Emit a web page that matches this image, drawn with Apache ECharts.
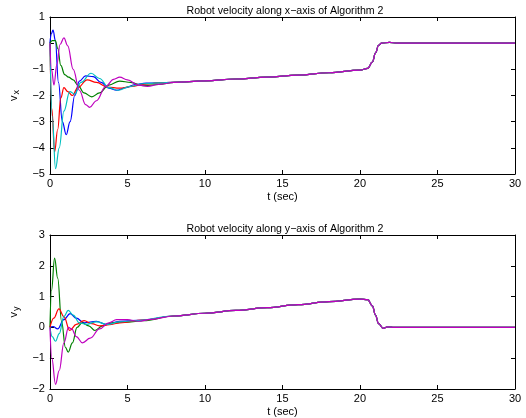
<!DOCTYPE html>
<html>
<head>
<meta charset="utf-8">
<script src="https://cdn.jsdelivr.net/npm/echarts@6/dist/echarts.min.js"></script>
<style>
  html, body { margin: 0; padding: 0; background: #fff; }
  #chart { width: 526px; height: 418px; }
</style>
</head>
<body>
<div id="chart"></div>
<script>
// x ticks (time, sec)
const xTicks = [0, 5, 10, 15, 20, 25, 30];
const vxTicks = [-5, -4, -3, -2, -1, 0, 1];
const vyTicks = [-2, -1, 0, 1, 2, 3];

// common slow part after the transient
const vxTail = [[10,-1.44],[12,-1.37],[14,-1.3],[16,-1.22],[18,-1.13],[20,-1.03],[20.5,-0.96],[20.8,-0.72],[21.0,-0.38],[21.2,-0.08],[21.4,0],[21.9,0.03],[22.4,0],[30,0]];
const vyTail = [[10,0.46],[12,0.55],[14,0.64],[16,0.74],[18,0.84],[20,0.92],[20.5,0.9],[20.8,0.7],[21.0,0.4],[21.2,0.12],[21.5,-0.03],[21.8,0.02],[22.2,0],[30,0]];

// vx, one array per robot
const vxBlue = [[0,0],[0.08,0.35],[0.2,0.5],[0.35,0.1],[0.55,-1.5],[0.8,-3.0],[1.05,-3.5],[1.3,-3.0],[1.6,-2.0],[1.9,-1.45],[2.3,-1.25],[2.8,-1.28],[3.3,-1.5],[3.8,-1.72],[4.3,-1.8],[4.9,-1.7],[5.5,-1.58],[6.2,-1.53],[7,-1.52],[8,-1.5]];
const vxGreen = [[0,0],[0.15,0.1],[0.35,0.1],[0.5,-0.2],[0.7,-0.85],[0.95,-1.2],[1.2,-1.3],[1.5,-1.4],[1.8,-1.6],[2.2,-1.9],[2.7,-2.05],[3.2,-1.9],[3.8,-1.6],[4.5,-1.45],[5.2,-1.5],[6,-1.62],[7,-1.58],[8,-1.5]];
const vxRed = [[0,0],[0.12,-2.5],[0.3,-4.15],[0.5,-3.3],[0.7,-2.1],[0.9,-1.7],[1.15,-1.85],[1.45,-2.0],[1.8,-1.7],[2.4,-1.4],[3.0,-1.5],[3.7,-1.68],[4.5,-1.72],[5.3,-1.65],[6,-1.58],[7,-1.52],[8,-1.5]];
const vxCyan = [[0,0],[0.15,-2.8],[0.36,-4.8],[0.6,-4.0],[0.9,-2.6],[1.28,-1.85],[1.6,-1.95],[2.0,-1.5],[2.65,-1.15],[3.2,-1.35],[3.8,-1.7],[4.4,-1.8],[5.2,-1.65],[6,-1.55],[7,-1.52],[8,-1.5]];
const vxMagenta = [[0,0],[0.1,-1.0],[0.26,-1.6],[0.45,-0.8],[0.65,-0.05],[0.9,0.2],[1.15,-0.1],[1.5,-1.0],[1.9,-1.8],[2.3,-2.35],[2.56,-2.45],[3.0,-2.2],[3.6,-1.65],[4.1,-1.38],[4.5,-1.3],[5.0,-1.4],[5.7,-1.6],[6.3,-1.65],[7,-1.58],[8,-1.5]];

// vy
const vyBlue = [[0,0],[0.2,0.03],[0.5,-0.05],[0.9,0.25],[1.3,0.45],[1.7,0.3],[2.2,0.15],[3.0,0.2],[3.6,0.1],[4.5,0.2],[6,0.24],[8,0.37]];
const vyGreen = [[0,0],[0.1,1.2],[0.3,2.25],[0.5,1.6],[0.75,0.2],[1.0,-0.65],[1.18,-0.8],[1.45,-0.5],[1.75,0.0],[2.07,0.15],[2.5,0.05],[2.9,-0.1],[3.4,0.05],[4.0,0.15],[5,0.17],[6,0.22],[8,0.37]];
const vyRed = [[0,0],[0.25,0.3],[0.58,0.6],[0.9,0.35],[1.28,-0.1],[1.7,0.1],[2.2,0.22],[2.7,0.12],[3.2,0.05],[4.0,0.1],[4.5,0.15],[6,0.24],[8,0.37]];
const vyCyan = [[0,0],[0.15,-0.3],[0.36,-0.45],[0.6,-0.2],[0.9,0.35],[1.18,0.55],[1.5,0.4],[1.9,0.15],[2.3,0.1],[3.0,0.18],[3.7,0.1],[4.5,0.18],[5.5,0.22],[8,0.37]];
const vyMagenta = [[0,0],[0.12,-1.0],[0.36,-1.85],[0.6,-1.4],[0.9,-0.5],[1.2,0.0],[1.4,-0.05],[1.7,-0.3],[2.1,-0.5],[2.6,-0.35],[3.2,-0.05],[3.8,0.15],[4.3,0.25],[5.0,0.25],[5.7,0.2],[6.5,0.26],[8,0.37]];

const colors = ['#0000ff', '#008000', '#ff0000', '#00bfbf', '#bf00bf'];
const fontFamily = 'Liberation Sans, Arial, sans-serif';
const minus = v => String(v).replace('-', '\u2212');

let myChart = echarts.init(document.getElementById('chart'));

function xAx(gridIndex, pos, withLabels) {
  return {
    type: 'value', gridIndex: gridIndex, position: pos,
    min: 0, max: 30, interval: 5,
    name: withLabels ? 't (sec)' : '',
    nameLocation: 'middle', nameGap: 17,
    nameTextStyle: { color: '#000', fontSize: 11, fontFamily: fontFamily },
    axisLine: { show: true, onZero: false, lineStyle: { color: '#000', width: 1 } },
    axisTick: { show: true, inside: true, length: 4, lineStyle: { color: '#000' } },
    axisLabel: { show: withLabels, color: '#000', fontSize: 11, fontFamily: fontFamily, margin: 4 },
    splitLine: { show: false }
  };
}
function yAx(gridIndex, pos, min, max, name, withLabels) {
  return {
    type: 'value', gridIndex: gridIndex, position: pos,
    min: min, max: max, interval: 1,
    name: withLabels ? name : '',
    nameLocation: 'middle', nameGap: 26, nameRotate: 90,
    nameTextStyle: {
      color: '#000', fontSize: 11, fontFamily: fontFamily,
      rich: { s: { fontSize: 9, fontFamily: fontFamily, color: '#000', verticalAlign: 'bottom', padding: [7, 0, 0, 1] } }
    },
    axisLine: { show: true, onZero: false, lineStyle: { color: '#000', width: 1 } },
    axisTick: { show: true, inside: true, length: 4, lineStyle: { color: '#000' } },
    axisLabel: { show: withLabels, color: '#000', fontSize: 11, fontFamily: fontFamily, margin: 5, formatter: minus },
    splitLine: { show: false }
  };
}
function line(data, color, axis) {
  return {
    type: 'line', data: data, xAxisIndex: axis, yAxisIndex: axis,
    showSymbol: false, smooth: 0.4, smoothMonotone: 'x',
    lineStyle: { color: color, width: 1.2 }, itemStyle: { color: color },
    animation: false
  };
}

const vx = [vxBlue, vxGreen, vxRed, vxCyan, vxMagenta];
const vy = [vyBlue, vyGreen, vyRed, vyCyan, vyMagenta];

myChart.setOption({
  backgroundColor: '#fff',
  animation: false,
  title: [
    { text: 'Robot velocity along x\u2212axis of Algorithm 2', left: 280, top: 1, textAlign: 'center',
      textStyle: { fontSize: 10.6, fontWeight: 'normal', color: '#000', fontFamily: fontFamily } },
    { text: 'Robot velocity along y\u2212axis of Algorithm 2', left: 280, top: 219, textAlign: 'center',
      textStyle: { fontSize: 10.6, fontWeight: 'normal', color: '#000', fontFamily: fontFamily } }
  ],
  grid: [
    { left: 46, right: 11, top: 17, height: 157 },
    { left: 46, right: 11, top: 235, height: 157 }
  ],
  xAxis: [xAx(0, 'bottom', true), xAx(1, 'bottom', true), xAx(0, 'top', false), xAx(1, 'top', false)],
  yAxis: [
    yAx(0, 'left', -5, 1, 'v{s|x}', true), yAx(1, 'left', -2, 3, 'v{s|y}', true),
    yAx(0, 'right', -5, 1, '', false), yAx(1, 'right', -2, 3, '', false)
  ],
  series: vx.map((d, i) => line(d.concat(vxTail), colors[i], 0))
    .concat(vy.map((d, i) => line(d.concat(vyTail), colors[i], 1)))
});
</script>
</body>
</html>
